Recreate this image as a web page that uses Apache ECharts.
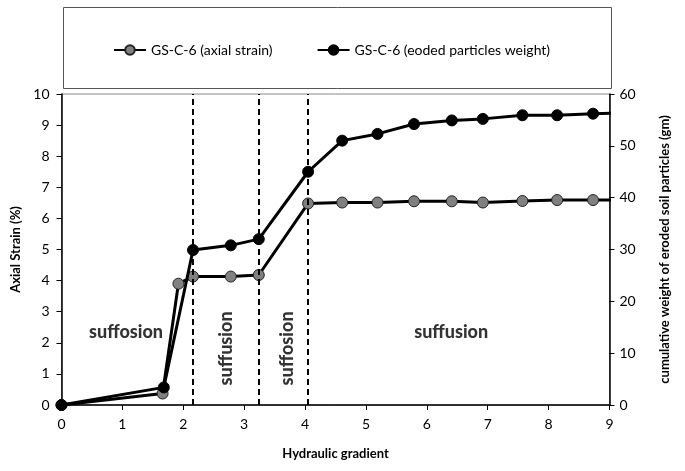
<!DOCTYPE html>
<html>
<head>
<meta charset="utf-8">
<script src="https://cdn.jsdelivr.net/npm/echarts@6/dist/echarts.min.js"></script>
<style>
html,body{margin:0;padding:0;background:#fff;}
#c{width:685px;height:471px;}
</style>
</head>
<body>
<div id="c"></div>
<script>
// Data
var gradientStrain = [0, 1.66, 1.92, 2.16, 2.78, 3.24, 4.05, 4.61, 5.19, 5.79, 6.41, 6.92, 7.57, 8.14, 8.73, 9.35];
var axialStrain    = [0, 0.37, 3.9, 4.13, 4.13, 4.18, 6.48, 6.51, 6.51, 6.55, 6.55, 6.51, 6.56, 6.59, 6.59, 6.6];
var gradientWeight = [0, 1.68, 2.16, 2.78, 3.24, 4.05, 4.61, 5.19, 5.79, 6.41, 6.92, 7.57, 8.14, 8.73, 9.35];
var erodedWeight   = [0, 3.4, 29.9, 30.8, 32.0, 45.0, 51.0, 52.3, 54.2, 54.9, 55.2, 55.9, 55.9, 56.2, 56.4];
var boundaries     = [2.16, 3.24, 4.05];
var xTicks = {min: 0, max: 9, interval: 1};
var yLeftTicks = {min: 0, max: 10, interval: 1};
var yRightTicks = {min: 0, max: 60, interval: 10};
var annotationText = ['suffosion', 'suffusion', 'suffosion', 'suffusion'];
var annotationX    = [1.06, 2.71, 3.70, 6.40];
var annotationY    = [2.34, 1.82, 1.82, 2.34];
var annotationRot  = [0, 90, 90, 0];

var FONT = 'Lato';

function pairs(xs, ys){ return xs.map(function(x,i){ return [x, ys[i]]; }); }

var chart = echarts.init(document.getElementById('c'), null, {renderer:'canvas'});

var annData = annotationText.map(function(t,i){
  return {
    value:[annotationX[i], annotationY[i]],
    label:{show:true, formatter:t, rotate:annotationRot[i], position:'inside',
      fontFamily:FONT, fontWeight:900, fontSize:18, color:'#000'}
  };
});

var option = {
  backgroundColor:'#fff',
  animation:false,
  textStyle:{fontFamily:FONT},
  graphic:[{
    type:'rect', left:61, top:5, shape:{width:548, height:81},
    style:{fill:'none', stroke:'#555', lineWidth:1}, z:0
  }],
  legend:{
    left:108, top:38, itemWidth:32, itemHeight:12, itemGap:44,
    textStyle:{fontFamily:FONT, fontSize:14, color:'#000'},
    data:['GS-C-6 (axial strain)','GS-C-6 (eoded particles weight)']
  },
  grid:{left:61.5, right:75.5, top:94, bottom:66, show:true, borderColor:'#888', borderWidth:1},
  xAxis:{
    type:'value', min:xTicks.min, max:xTicks.max, interval:xTicks.interval,
    name:'Hydraulic gradient', nameLocation:'middle', nameGap:42,
    nameTextStyle:{fontFamily:FONT, fontWeight:'bold', fontSize:13, color:'#000'},
    axisLine:{show:true, onZero:false, lineStyle:{color:'#000', width:1.5}},
    axisTick:{show:true, inside:false, length:5, lineStyle:{color:'#000'}},
    axisLabel:{fontFamily:FONT, fontSize:14, color:'#000', margin:12},
    splitLine:{show:false}
  },
  yAxis:[{
    type:'value', position:'left', min:yLeftTicks.min, max:yLeftTicks.max, interval:yLeftTicks.interval,
    name:'Axial Strain (%)', nameLocation:'middle', nameGap:33, nameRotate:90,
    nameTextStyle:{fontFamily:FONT, fontWeight:'bold', fontSize:13, color:'#000'},
    axisLine:{show:true, lineStyle:{color:'#000', width:1.5}},
    axisTick:{show:true, inside:false, length:5, lineStyle:{color:'#000'}},
    axisLabel:{fontFamily:FONT, fontSize:14, color:'#000', margin:12},
    splitLine:{show:false}
  },{
    type:'value', position:'right', min:yRightTicks.min, max:yRightTicks.max, interval:yRightTicks.interval,
    name:'cumulative weight of eroded soil particles (gm)', nameLocation:'middle', nameGap:49, nameRotate:90,
    nameTextStyle:{fontFamily:FONT, fontWeight:'bold', fontSize:13, color:'#000'},
    axisLine:{show:true, lineStyle:{color:'#000', width:1.5}},
    axisTick:{show:true, inside:false, length:5, lineStyle:{color:'#000'}},
    axisLabel:{fontFamily:FONT, fontSize:14, color:'#000', margin:10},
    splitLine:{show:false}
  }],
  series:[{
    name:'GS-C-6 (axial strain)', type:'line', yAxisIndex:0,
    data:pairs(gradientStrain, axialStrain), clip:true,
    symbol:'circle', symbolSize:11,
    lineStyle:{color:'#000', width:3},
    itemStyle:{color:'#808080', borderColor:'#222', borderWidth:1},
    z:3,
    markLine:{
      silent:true, symbol:'none', label:{show:false},
      lineStyle:{color:'#000', width:2, type:[6,4]},
      data:boundaries.map(function(b){ return {xAxis:b}; })
    }
  },{
    name:'GS-C-6 (eoded particles weight)', type:'line', yAxisIndex:1,
    data:pairs(gradientWeight, erodedWeight), clip:true,
    symbol:'circle', symbolSize:11,
    lineStyle:{color:'#000', width:3},
    itemStyle:{color:'#000', borderColor:'#000', borderWidth:1},
    z:4
  },{
    type:'scatter', yAxisIndex:0, symbolSize:0, silent:true,
    data:annData, z:5
  }]
};
chart.setOption(option);
</script>
</body>
</html>
